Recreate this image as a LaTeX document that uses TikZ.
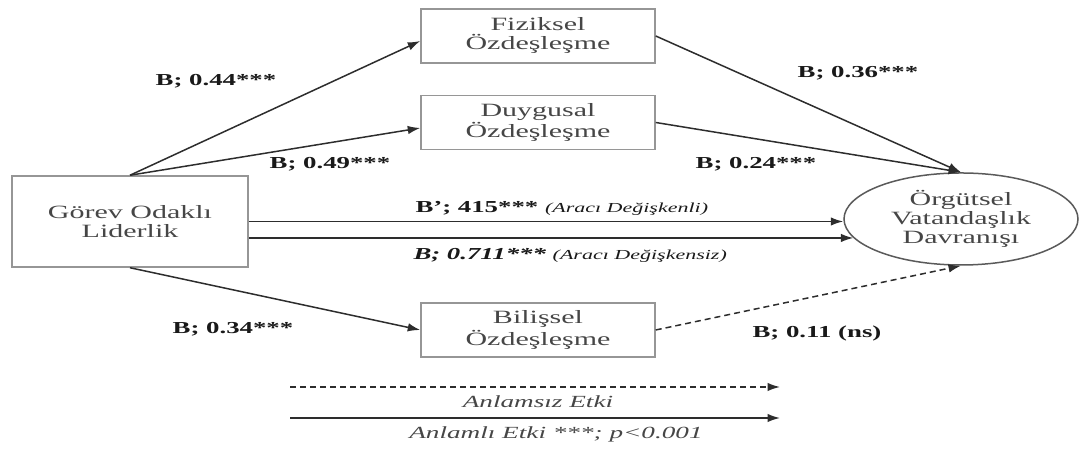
\documentclass[tikz,border=0pt]{standalone}
\usepackage{fontspec}
\setmainfont{Liberation Serif}
\newfontfamily\sqfont[FakeStretch=1.6]{Liberation Serif}
\usetikzlibrary{arrows.meta,shapes.geometric}

\definecolor{boxline}{RGB}{150, 150, 150}
\definecolor{ovalline}{RGB}{90, 90, 90}
\definecolor{boxtext}{RGB}{70, 70, 70}
\definecolor{arrowline}{RGB}{45, 45, 45}
\definecolor{labeltext}{RGB}{25, 25, 25}

\begin{document}
\begin{tikzpicture}[
    x = 0.4pt,
    y = -0.4pt,
    varbox/.style = {
        draw       = boxline,
        line width = 0.6pt,
        text       = boxtext,
        align      = center,
        inner sep  = 0pt,
        font       = \sqfont\fontsize{7.5}{7.6}\selectfont
    },
    medbox/.style = {
        varbox,
        minimum width  = 93.6pt,
        minimum height = 21.6pt
    },
    coef/.style = {
        text      = labeltext,
        inner sep = 0pt,
        font      = \sqfont\fontsize{6.7}{8}\selectfont\bfseries
    },
    legtext/.style = {
        text      = boxtext,
        inner sep = 0pt,
        font      = \sqfont\fontsize{6.8}{8}\selectfont\itshape
    },
    effect/.style = {
        draw       = arrowline,
        line width = 0.6pt,
        -{Latex[length=5pt, width=3.4pt]}
    },
    nseffect/.style = {
        effect,
        dash pattern = on 2.4pt off 1.6pt
    }
]
    \useasboundingbox (0,0) rectangle (1082,450);

    % variables
    \node[varbox, minimum width = 94.4pt, minimum height = 36.4pt] (gorev) at (130,221.5) {Görev Odaklı\\Liderlik};
    \node[medbox] (fiz) at (538,36)    {Fiziksel\\Özdeşleşme};
    \node[medbox] (duy) at (538,122.5) {Duygusal\\Özdeşleşme};
    \node[medbox] (bil) at (538,330)   {Bilişsel\\Özdeşleşme};
    \node[varbox, ellipse, draw = ovalline, minimum width = 93.6pt, minimum height = 36.8pt] (ovd) at (961,219)
        {Örgütsel\\Vatandaşlık\\Davranışı};

    % paths
    \draw[effect] (gorev.north) -- ([yshift=-2pt]fiz.west);
    \draw[effect] (gorev.north) -- ([yshift=-2.2pt]duy.west);
    \draw[effect] (gorev.south) -- (bil.west);
    \draw[effect] (fiz.east) -- (ovd.north);
    \draw[effect] (duy.east) -- (ovd.north);
    \draw[nseffect] (bil.east) -- (ovd.south);
    \draw[effect] (gorev.east) -- (gorev.east -| ovd.west);
    \coordinate (ovdlow) at (ovd.190);
    \draw[effect] (gorev.east |- ovdlow) -- (ovdlow);

    % coefficients
    \node[coef] (c1) at (216,81)  {B; 0.44***};
    \node[coef] (c2) at (330,164) {B; 0.49***};
    \node[coef] (c3) at (858,73)  {B; 0.36***};
    \node[coef] (c4) at (756,164) {B; 0.24***};
    \node[coef, anchor = west] (c5) at (415,208)
        {B’; 415*** {\mdseries\itshape\fontsize{5.5}{6}\selectfont (Aracı Değişkenli)}};
    \node[coef, anchor = west] (c6) at (413,255)
        {\itshape B; 0.711*** {\mdseries\fontsize{5.5}{6}\selectfont (Aracı Değişkensiz)}};
    \node[coef] (c7) at (233,329) {B; 0.34***};
    \node[coef] (c8) at (817,333) {B; 0.11 (ns)};

    % legend
    \coordinate (nsA) at (290,387);
    \coordinate (nsB) at (780,387);
    \coordinate (sgA) at (290,418);
    \coordinate (sgB) at (780,418);
    \draw[nseffect] (nsA) -- (nsB);
    \draw[effect] (sgA) -- (sgB);
    \node[legtext] (nslab) at (538,402) {Anlamsız Etki};
    \node[legtext] (sglab) at (556,434) {Anlamlı Etki ***; p<0.001};
\end{tikzpicture}
\end{document}
